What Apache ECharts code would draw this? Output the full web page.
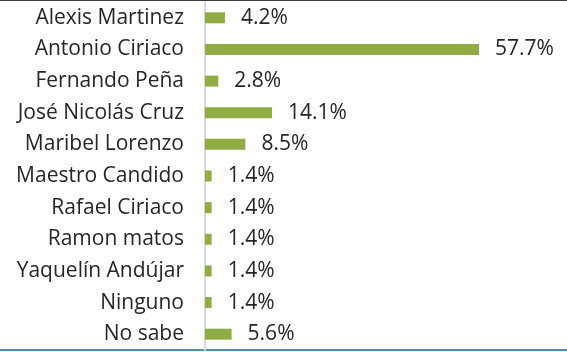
<!DOCTYPE html>
<html>
<head>
<meta charset="utf-8">
<script src="https://cdn.jsdelivr.net/npm/echarts@6/dist/echarts.min.js"></script>
<style>
  html, body { margin: 0; padding: 0; background: #fff; }
  #chart { width: 567px; height: 352px; }
</style>
</head>
<body>
<div id="chart"></div>
<script>
// Candidates, listed top to bottom
const categories = [
  'Alexis Martinez', 'Antonio Ciriaco', 'Fernando Peña', 'José Nicolás Cruz',
  'Maribel Lorenzo', 'Maestro Candido', 'Rafael Ciriaco', 'Ramon matos',
  'Yaquelín Andújar', 'Ninguno', 'No sabe'
];
// Share of responses, in percent
const values = [4.2, 57.7, 2.8, 14.1, 8.5, 1.4, 1.4, 1.4, 1.4, 1.4, 5.6];

const chart = echarts.init(document.getElementById('chart'), null, { renderer: 'canvas' });
const font = '"Open Sans", sans-serif';

chart.setOption({
  animation: false,
  grid: { left: 205, right: 77, top: 2, bottom: 2, containLabel: false },
  xAxis: {
    type: 'value', min: 0, max: 60, show: false
  },
  yAxis: {
    type: 'category',
    inverse: true,
    data: categories,
    axisLine: { show: true, lineStyle: { color: '#d9d9d9', width: 2 } },
    axisTick: { show: false },
    axisLabel: { color: '#262626', fontFamily: font, fontSize: 21, margin: 21 }
  },
  series: [{
    type: 'bar',
    data: values,
    barWidth: 11,
    itemStyle: { color: '#8fac45' },
    label: {
      show: true,
      position: 'right',
      distance: 16,
      color: '#262626',
      fontFamily: font,
      fontSize: 21,
      formatter: p => p.value.toFixed(1) + '%'
    }
  }],
  graphic: [
    // frame edges: thin dark rule on top, teal rule at the bottom
    { type: 'rect', shape: { x: 0, y: 0, width: 567, height: 1 }, style: { fill: '#3a3a3a' } },
    { type: 'rect', shape: { x: 0, y: 349, width: 567, height: 2 }, style: { fill: '#4a93ab' } }
  ]
});
</script>
</body>
</html>
